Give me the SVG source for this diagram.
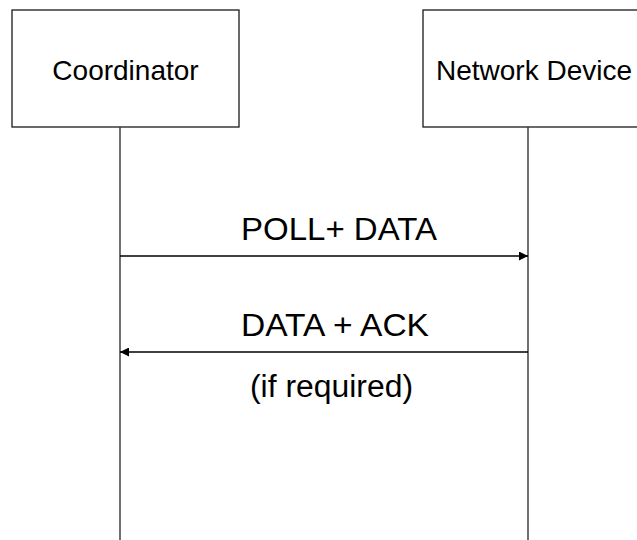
<svg xmlns="http://www.w3.org/2000/svg" width="637" height="540" viewBox="0 0 637 540">
<style>
.box{fill:#fff;stroke:#1a1a1a;stroke-width:1.3}
.life{stroke:#333;stroke-width:1.4;fill:none}
.msg{stroke:#000;stroke-width:1.5;fill:none}
.lbl{font-family:"Liberation Sans",Arial,sans-serif;font-size:28px;fill:#000}
.mlbl{font-family:"Liberation Sans",Arial,sans-serif;font-size:31px;fill:#000}
</style>
<defs>
<marker id="ah" viewBox="0 0 10 10" refX="10" refY="5" markerWidth="10" markerHeight="9" markerUnits="userSpaceOnUse" orient="auto">
<path d="M0,0 L10,5 L0,10 Z" fill="#000"/>
</marker>
</defs>
<rect width="637" height="540" fill="#fff"/>
<g id="coordinator">
<rect class="box" x="12" y="10" width="227" height="117"/>
<text class="lbl" x="125.5" y="80" text-anchor="middle">Coordinator</text>
</g>
<g id="network-device">
<rect class="box" x="423" y="10" width="230" height="117"/>
<text class="lbl" x="436" y="80">Network Device</text>
</g>
<g id="connectors">
<line class="life" x1="120" y1="127" x2="120" y2="540"/>
<line class="life" x1="528" y1="127" x2="528" y2="540"/>
<line class="msg" x1="120" y1="256" x2="528" y2="256" marker-end="url(#ah)"/>
<line class="msg" x1="528" y1="352" x2="120" y2="352" marker-end="url(#ah)"/>
</g>
<g id="labels">
<text class="mlbl" x="241" y="240" textLength="196" lengthAdjust="spacingAndGlyphs">POLL+ DATA</text>
<text class="mlbl" x="241" y="336" textLength="188" lengthAdjust="spacingAndGlyphs">DATA + ACK</text>
<text class="mlbl" x="250" y="397" textLength="163" lengthAdjust="spacingAndGlyphs">(if required)</text>
</g>
</svg>
